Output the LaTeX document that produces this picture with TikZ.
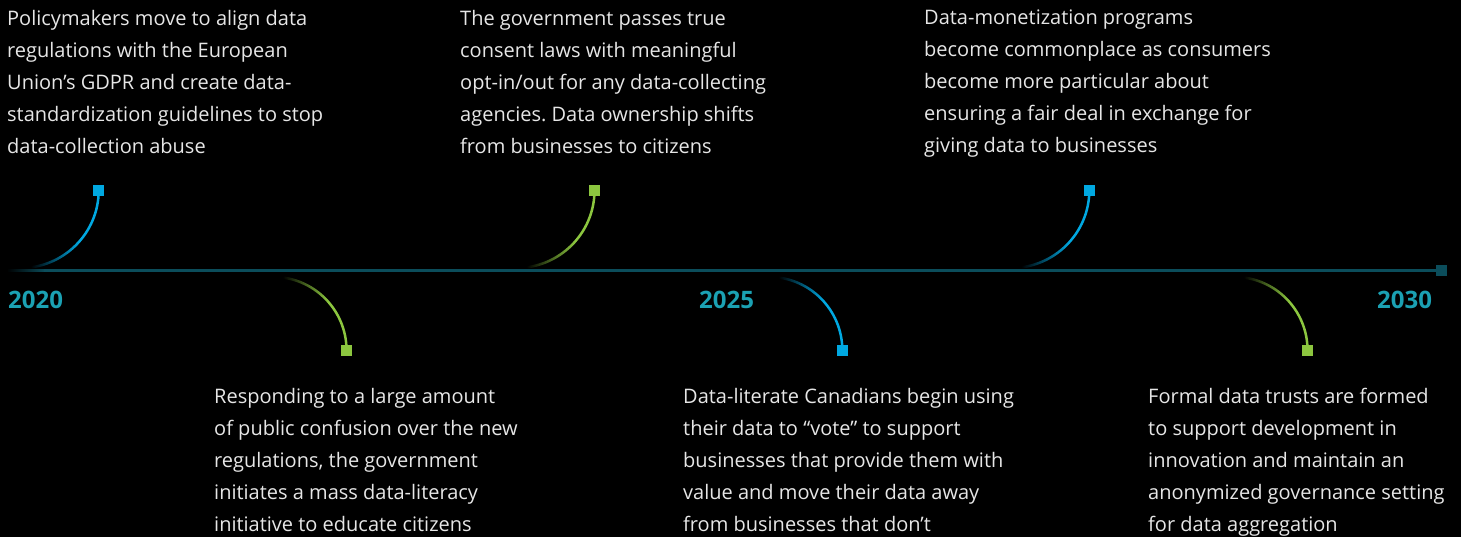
\documentclass[tikz,border=0pt]{standalone}
\usepackage{fontspec}
\setmainfont{Open Sans}
\usetikzlibrary{fadings}
\frenchspacing

\definecolor{bg}{HTML}{000000}
\definecolor{bodytxt}{HTML}{E6E6E6}
\definecolor{yearcol}{HTML}{1BA1B3}
\definecolor{linecol}{HTML}{0B4D5B}
\definecolor{evtblue}{HTML}{00A8E1}
\definecolor{evtgreen}{HTML}{8CC63F}

% risers are invisible where they leave the timeline and reach full colour near the marker
\pgfdeclarehorizontalshading{riserfadeshade}{100bp}{color(0bp)=(pgftransparent!100);
  color(32bp)=(pgftransparent!100); color(62bp)=(pgftransparent!0); color(100bp)=(pgftransparent!0)}
\pgfdeclarefading{riserfade}{\pgfuseshading{riserfadeshade}}

\begin{document}
\begin{tikzpicture}[x=1pt,y=1pt,
  blurb/.style={anchor=north west, inner sep=0pt, align=left,
    font=\fontsize{20}{32}\selectfont, text=bodytxt},
  yearlabel/.style={anchor=base west, inner sep=0pt,
    font=\fontsize{24}{28}\selectfont\bfseries, text=yearcol},
  sqmark/.style={rectangle, minimum size=11pt, inner sep=0pt, fill=#1},
  riser/.style={draw=#1, line width=2.5pt, path fading=riserfade},
]
% canvas
\fill[bg] (0,0) rectangle (1461,-537);
\useasboundingbox (0,0) rectangle (1461,-537);

% main timeline
\coordinate (tstart) at (8,-270.2);
\coordinate (tsolid) at (44,-270.2);
\node[sqmark=linecol] (tend) at (1441.5,-270.2) {};
\draw[linecol, line width=2.8pt, path fading=west] (tstart) -- (tsolid);
\draw[linecol, line width=2.8pt] (tsolid) -- (tend.center);

% year labels
\node[yearlabel] (y2020) at (8,-308) {2020};
\node[yearlabel] (y2025) at (699,-308) {2025};
\node[yearlabel] (y2030) at (1377,-308) {2030};

% event markers
\node[sqmark=evtblue]  (m1) at (98.7,-190.3) {};
\node[sqmark=evtgreen] (m2) at (346.5,-350.3) {};
\node[sqmark=evtgreen] (m3) at (594.5,-190.3) {};
\node[sqmark=evtblue]  (m4) at (842.3,-350.3) {};
\node[sqmark=evtblue]  (m5) at (1089.3,-190.3) {};
\node[sqmark=evtgreen] (m6) at (1307.5,-350.3) {};

% where each riser leaves the timeline
\coordinate (s1) at (20.7,-268);
\coordinate (s2) at (273.5,-277);
\coordinate (s3) at (516.5,-268);
\coordinate (s4) at (769.3,-277);
\coordinate (s5) at (1011.3,-268);
\coordinate (s6) at (1234.5,-277);

% fading risers
\draw[riser=evtblue]  (s1) to[out=0,in=-90] (m1.center);
\draw[riser=evtgreen] (s2) to[out=0,in=90]  (m2.center);
\draw[riser=evtgreen] (s3) to[out=0,in=-90] (m3.center);
\draw[riser=evtblue]  (s4) to[out=0,in=90]  (m4.center);
\draw[riser=evtblue]  (s5) to[out=0,in=-90] (m5.center);
\draw[riser=evtgreen] (s6) to[out=0,in=90]  (m6.center);

% markers on top of the riser ends
\node[sqmark=evtblue]  at (m1) {};
\node[sqmark=evtgreen] at (m2) {};
\node[sqmark=evtgreen] at (m3) {};
\node[sqmark=evtblue]  at (m4) {};
\node[sqmark=evtblue]  at (m5) {};
\node[sqmark=evtgreen] at (m6) {};

% event descriptions
\node[blurb] (e1) at (7,-9.8) {Policymakers move to align data\\
  regulations with the European\\
  Union’s GDPR and create data-\\
  standardization guidelines to stop\\
  data-collection abuse};
\node[blurb] (e3) at (460,-9.8) {The government passes true\\
  consent laws with meaningful\\
  opt-in/out for any data-collecting\\
  agencies. Data ownership shifts\\
  from businesses to citizens};
\node[blurb] (e5) at (924,-9.8) {Data-monetization programs\\
  become commonplace as consumers\\
  become more particular about\\
  ensuring a fair deal in exchange for\\
  giving data to businesses};
\node[blurb] (e2) at (214,-387.8) {Responding to a large amount\\
  of public confusion over the new\\
  regulations, the government\\
  initiates a mass data-literacy\\
  initiative to educate citizens};
\node[blurb] (e4) at (683,-387.8) {Data-literate Canadians begin using\\
  their data to “vote” to support\\
  businesses that provide them with\\
  value and move their data away\\
  from businesses that don’t};
\node[blurb] (e6) at (1148,-387.8) {Formal data trusts are formed\\
  to support development in\\
  innovation and maintain an\\
  anonymized governance setting\\
  for data aggregation};
\end{tikzpicture}
\end{document}
